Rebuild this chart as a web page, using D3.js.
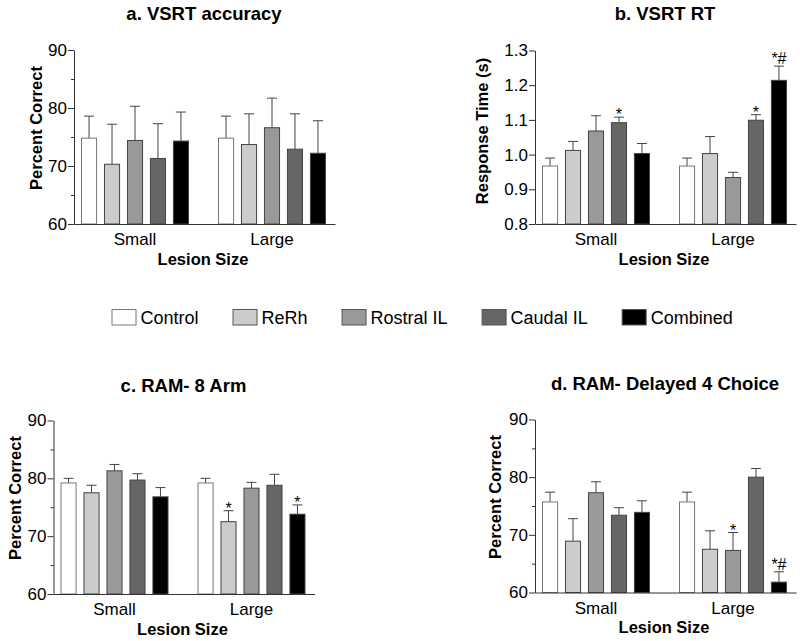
<!DOCTYPE html>
<html>
<head>
<meta charset="utf-8">
<script src="https://cdn.jsdelivr.net/npm/d3@7"></script>
<style>
  html, body { margin: 0; padding: 0; background: #fff; }
  svg { display: block; font-family: "Liberation Sans", Arial, Helvetica, sans-serif; }
</style>
</head>
<body>
<svg id="chart" width="800" height="641"></svg>
<script>
// ---- data ----
const groups = ["Small", "Large"];
const series = ["Control", "ReRh", "Rostral IL", "Caudal IL", "Combined"];
const seriesColors = ["#ffffff", "#cccccc", "#999999", "#666666", "#000000"];

// a. VSRT accuracy (percent correct)
const accMean = [[74.8, 70.3, 74.4, 71.3, 74.3], [74.8, 73.7, 76.6, 72.9, 72.2]];
const accSem  = [[3.8, 6.9, 5.9, 6.0, 5.0], [3.8, 5.3, 5.1, 6.1, 5.6]];
const accSig  = [["", "", "", "", ""], ["", "", "", "", ""]];

// b. VSRT RT (s)
const rtMean = [[0.967, 1.012, 1.068, 1.092, 1.003], [0.967, 1.003, 0.934, 1.099, 1.214]];
const rtSem  = [[0.023, 0.026, 0.044, 0.016, 0.029], [0.023, 0.049, 0.015, 0.016, 0.041]];
const rtSig  = [["", "", "", "*", ""], ["", "", "", "*", "*#"]];

// c. RAM- 8 Arm (percent correct)
const armMean = [[79.2, 77.5, 81.3, 79.7, 76.8], [79.2, 72.5, 78.3, 78.8, 73.8]];
const armSem  = [[0.8, 1.3, 1.1, 1.1, 1.6], [0.8, 1.9, 1.0, 1.9, 1.6]];
const armSig  = [["", "", "", "", ""], ["", "*", "", "", "*"]];

// d. RAM- Delayed 4 Choice (percent correct)
const delMean = [[75.7, 68.9, 77.3, 73.4, 73.9], [75.7, 67.5, 67.3, 80.0, 61.8]];
const delSem  = [[1.7, 3.9, 1.9, 1.3, 2.0], [1.7, 3.2, 3.1, 1.5, 1.8]];
const delSig  = [["", "", "", "", ""], ["", "", "*", "", "*#"]];

const pctTicks = [60, 70, 80, 90];
const pctMinor = [65, 75, 85];
const rtTicks = [0.8, 0.9, 1.0, 1.1, 1.2, 1.3];

// ---- drawing ----
const svg = d3.select("#chart");
const axisColor = "#333";

function panel(opt) {
  const g = svg.append("g");
  const x0 = opt.x0, yTop = opt.yTop, yBot = opt.yBot;
  const axisLen = 261;

  const y = d3.scaleLinear().domain(opt.domain).range([yBot, yTop]);
  const xg = d3.scaleBand().domain(groups).range([x0 + 7, x0 + 252]).paddingInner(29 / 137).paddingOuter(0);
  const xs = d3.scaleBand().domain(series).range([0, xg.bandwidth()]).paddingInner(0.3).paddingOuter(0);

  // title
  g.append("text").attr("x", x0 + 130).attr("y", opt.titleY)
    .attr("text-anchor", "middle").attr("font-weight", "bold").attr("font-size", 18.5)
    .text(opt.title);

  // bars
  groups.forEach((grp, gi) => {
    series.forEach((s, si) => {
      const m = opt.mean[gi][si], e = opt.sem[gi][si];
      const bx = xg(grp) + xs(s);
      const cx = bx + xs.bandwidth() / 2;
      // error bar (upper only)
      g.append("line").attr("x1", cx).attr("x2", cx).attr("y1", y(m)).attr("y2", y(m + e))
        .attr("stroke", "#444").attr("stroke-width", 1);
      g.append("line").attr("x1", cx - 5).attr("x2", cx + 5).attr("y1", y(m + e)).attr("y2", y(m + e))
        .attr("stroke", "#444").attr("stroke-width", 1);
      g.append("rect").attr("x", bx + 0.5).attr("y", y(m))
        .attr("width", xs.bandwidth() - 1).attr("height", yBot - y(m))
        .attr("fill", seriesColors[si])
        .attr("stroke", si === 0 ? "#777" : "#444").attr("stroke-width", 1);
      const sig = opt.sig[gi][si];
      if (sig) {
        g.append("text").attr("x", cx).attr("y", y(m + e) + (sig === "*" ? 3 : -2))
          .attr("text-anchor", "middle").attr("font-size", 16).attr("fill", "#000")
          .text(sig);
      }
    });
  });

  // y axis
  const ax = g.append("g").attr("transform", `translate(${x0},0)`)
    .call(d3.axisLeft(y).tickValues(opt.ticks).tickFormat(opt.fmt).tickSize(6).tickPadding(1).tickSizeOuter(0));
  ax.selectAll("text").attr("font-size", 17).attr("fill", "#000").attr("font-family", null);
  ax.selectAll("line,path").attr("stroke", axisColor);
  if (opt.minor) {
    const mx = g.append("g").attr("transform", `translate(${x0},0)`)
      .call(d3.axisLeft(y).tickValues(opt.minor).tickFormat("").tickSize(3).tickSizeOuter(0));
    mx.select(".domain").remove();
    mx.selectAll("line").attr("stroke", axisColor);
  }

  // x axis
  const xa = g.append("g").attr("transform", `translate(0,${yBot})`)
    .call(d3.axisBottom(d3.scaleLinear().domain([0, 1]).range([x0, x0 + axisLen])).tickValues([]).tickSizeOuter(0));
  xa.selectAll("path").attr("stroke", axisColor);
  groups.forEach(grp => {
    g.append("text").attr("x", xg(grp) + xg.bandwidth() / 2).attr("y", yBot + 21)
      .attr("text-anchor", "middle").attr("font-size", 17).text(grp);
  });
  g.append("text").attr("x", x0 + 129).attr("y", yBot + opt.xTitleDy)
    .attr("text-anchor", "middle").attr("font-weight", "bold").attr("font-size", 16.5)
    .text("Lesion Size");

  // y title
  g.append("text")
    .attr("transform", `translate(${opt.yTitleX},${opt.yTitleY}) rotate(-90)`)
    .attr("text-anchor", "middle").attr("font-weight", "bold").attr("font-size", 16.5)
    .text(opt.yTitle);
}

panel({ x0: 74, yTop: 50, yBot: 224, domain: [60, 90], ticks: pctTicks, minor: pctMinor, fmt: d3.format("d"),
  mean: accMean, sem: accSem, sig: accSig, title: "a. VSRT accuracy", titleY: 20,
  yTitle: "Percent Correct", yTitleX: 41.5, yTitleY: 128, xTitleDy: 41 });

panel({ x0: 535, yTop: 50.5, yBot: 224, domain: [0.8, 1.3], ticks: rtTicks, minor: null, fmt: d3.format(".1f"),
  mean: rtMean, sem: rtSem, sig: rtSig, title: "b. VSRT RT", titleY: 20,
  yTitle: "Response Time (s)", yTitleX: 488, yTitleY: 131, xTitleDy: 41 });

panel({ x0: 53.5, yTop: 420.5, yBot: 594, domain: [60, 90], ticks: pctTicks, minor: pctMinor, fmt: d3.format("d"),
  mean: armMean, sem: armSem, sig: armSig, title: "c. RAM- 8 Arm", titleY: 391.5,
  yTitle: "Percent Correct", yTitleX: 20.7, yTitleY: 498, xTitleDy: 41 });

panel({ x0: 535, yTop: 419.5, yBot: 592.5, domain: [60, 90], ticks: pctTicks, minor: pctMinor, fmt: d3.format("d"),
  mean: delMean, sem: delSem, sig: delSig, title: "d. RAM- Delayed 4 Choice", titleY: 390,
  yTitle: "Percent Correct", yTitleX: 501, yTitleY: 497, xTitleDy: 40 });

// legend
const leg = svg.append("g");
let lx = 111.5;
series.forEach((s, i) => {
  leg.append("rect").attr("x", lx + 0.5).attr("y", 309.5).attr("width", 24).attr("height", 15.5)
    .attr("fill", seriesColors[i]).attr("stroke", i === 0 ? "#777" : "#555").attr("stroke-width", 1);
  const t = leg.append("text").attr("x", lx + 29).attr("y", 323.5).attr("font-size", 18).text(s);
  lx += 29 + t.node().getComputedTextLength() + 34;
});
</script>
</body>
</html>
